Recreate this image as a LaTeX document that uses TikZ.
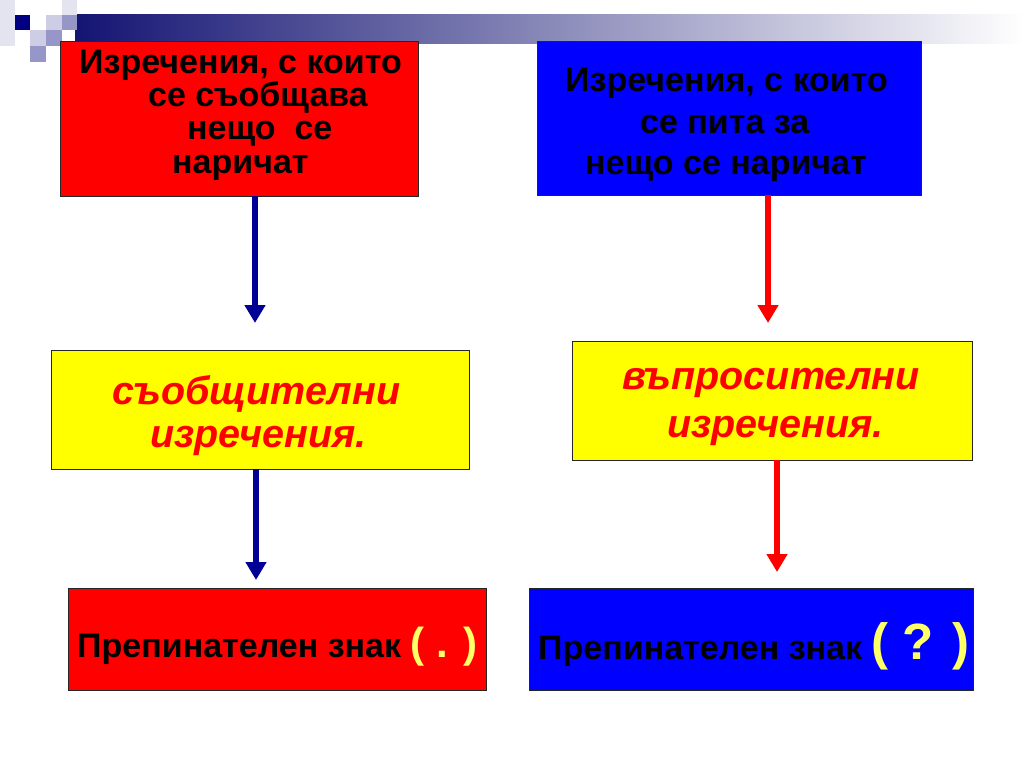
\documentclass[tikz,border=0pt]{standalone}
\usepackage{fontspec}
\setmainfont{Liberation Sans}
\usetikzlibrary{arrows.meta}
\definecolor{navyA}{RGB}{0,0,150}
\definecolor{barnavy}{RGB}{20,20,115}
\definecolor{sqdark}{RGB}{0,0,128}
\definecolor{sqmed}{RGB}{150,150,200}
\definecolor{sqlight}{RGB}{205,205,228}
\definecolor{sqvlight}{RGB}{228,228,240}
\definecolor{boxred}{RGB}{255,0,0}
\definecolor{boxblue}{RGB}{0,0,255}
\definecolor{boxyel}{RGB}{255,255,0}
\definecolor{markyel}{RGB}{255,255,102}
\begin{document}
\begin{tikzpicture}[x=1pt,y=-1pt,
  box/.style={draw=black!85, line width=1pt, inner sep=0pt, outer sep=0pt},
  txt/.style={anchor=base west, inner sep=0pt, font=\bfseries\fontsize{34}{40}\selectfont},
  itxt/.style={anchor=base west, inner sep=0pt, text=boxred, font=\bfseries\itshape\fontsize{39.5}{45}\selectfont},
  btxt/.style={anchor=base west, inner sep=0pt, font=\bfseries\fontsize{34}{40}\selectfont},
  arr/.style={line width=6pt, -{Triangle[width=20pt,length=18pt]}}]
\useasboundingbox (0,0) rectangle (1024,768);
% header decoration
\shade[left color=barnavy, right color=white] (75,15) rectangle (1024,44);
\fill[sqvlight] (0,0) rectangle (15,46);
\fill[sqvlight] (62,0) rectangle (77,15);
\fill[sqdark] (15,15) rectangle (30,30);
\fill[white] (30,15) rectangle (46,30);
\fill[sqlight] (46,15) rectangle (62,30);
\fill[sqmed] (62,15) rectangle (77,30);
\fill[sqlight] (30,30) rectangle (46,46);
\fill[sqmed] (46,30) rectangle (62,46);
\fill[sqmed] (30,46) rectangle (46,62);
% boxes
\node (r1) [box, fill=boxred, minimum width=358pt, minimum height=154pt] at (239,119) {};
\node (b1) [box, fill=boxblue, minimum width=384pt, minimum height=153pt] at (729,118.5) {};
\node (y1) [box, fill=boxyel, minimum width=418pt, minimum height=119pt] at (260,409.5) {};
\node (y2) [box, fill=boxyel, minimum width=400pt, minimum height=119pt] at (772,400.5) {};
\node (r2) [box, fill=boxred, minimum width=418pt, minimum height=102pt] at (277,639) {};
\node (b2) [box, fill=boxblue, minimum width=444pt, minimum height=102pt] at (751,639) {};
% texts
\node (r1a) [txt] at (79,73) {Изречения, с които};
\node (r1b) [txt] at (148,106) {се съобщава};
\node (r1c) [txt] at (187,139) {нещо\ \ се};
\node (r1d) [txt] at (172,173) {наричат};
\node (b1a) [txt] at (565,91) {Изречения, с които};
\node (b1b) [txt] at (640,133) {се пита за};
\node (b1c) [txt] at (585,174) {нещо се наричат};
\node (y1a) [itxt] at (112,404) {съобщителни};
\node (y1b) [itxt] at (150,447) {изречения.};
\node (y2a) [itxt] at (622,389) {въпросителни};
\node (y2b) [itxt] at (667,437) {изречения.};
\node (r2t) [btxt] at (77,657) {Препинателен знак {\color{markyel}\fontsize{42}{44}\selectfont ( . )}};
\node (b2t) [btxt] at (538,659) {Препинателен знак {\color{markyel}\fontsize{51}{53}\selectfont ( ? )}};
% arrows
\coordinate (xl1) at (255,0);
\coordinate (xl2) at (256,0);
\coordinate (xr1) at (768,0);
\coordinate (xr2) at (777,0);
\draw[arr, navyA, shorten >=27pt] (r1.south -| xl1) -- (y1.north -| xl1);
\draw[arr, navyA, shorten >=8pt] (y1.south -| xl2) -- (r2.north -| xl2);
\draw[arr, boxred, shorten >=18pt] (b1.south -| xr1) -- (y2.north -| xr1);
\draw[arr, boxred, shorten >=16pt] (y2.south -| xr2) -- (b2.north -| xr2);
\end{tikzpicture}
\end{document}
